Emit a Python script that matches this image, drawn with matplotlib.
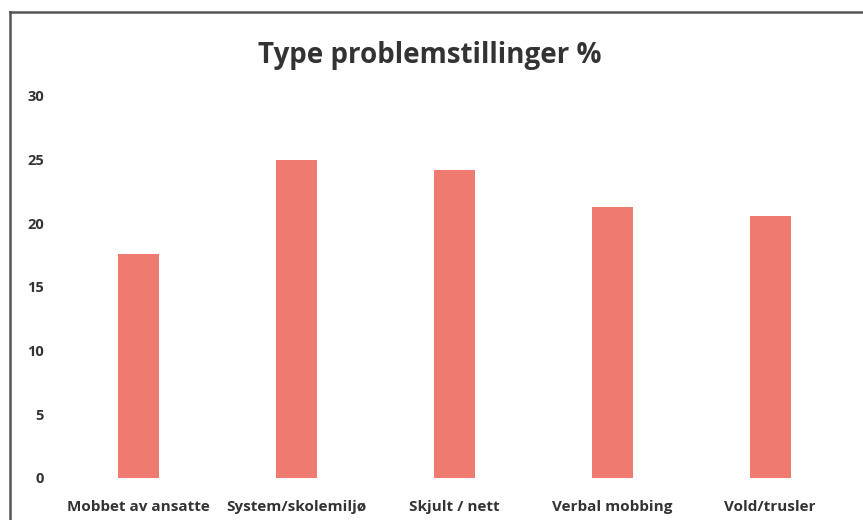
import matplotlib
matplotlib.use("Agg")
import matplotlib.pyplot as plt
from matplotlib.lines import Line2D

# data
categories = ["Mobbet av ansatte", "System/skolemiljø", "Skjult / nett",
              "Verbal mobbing", "Vold/trusler"]
values = [17.6, 25.0, 24.2, 21.3, 20.6]
yticks = [0, 5, 10, 15, 20, 25, 30]

plt.rcParams["font.family"] = ["Open Sans", "DejaVu Sans"]

fig = plt.figure(figsize=(8.63, 5.20), dpi=100)
ax = fig.add_axes([0.0684, 0.0808, 0.9156, 0.7346])

ax.bar(range(len(categories)), values, width=0.26, color="#ee7a70")
ax.set_xlim(-0.5, len(categories) - 0.5)
ax.set_ylim(0, 30)
ax.set_yticks(yticks)
ax.set_yticklabels([str(t) for t in yticks], fontsize=10.5,
                   fontweight="bold", color="#333333")
ax.set_xticks(range(len(categories)))
ax.set_xticklabels(categories, fontsize=11, fontweight="bold",
                   color="#333333")
ax.tick_params(axis="y", length=0, pad=11)
ax.tick_params(axis="x", length=0, pad=16)
for s in ax.spines.values():
    s.set_visible(False)

fig.text(0.498, 0.893, "Type problemstillinger %", ha="center", va="center",
         fontsize=20, fontweight="bold", color="#333333")

# frame of the scanned chart box (top and left edges)
fig.add_artist(Line2D([0.0116, 1.0], [0.977, 0.977], transform=fig.transFigure,
                      color="#555555", lw=1.8))
fig.add_artist(Line2D([0.0116, 0.0116], [0.0, 0.977], transform=fig.transFigure,
                      color="#555555", lw=1.8))

fig.savefig("out.png", dpi=100)
